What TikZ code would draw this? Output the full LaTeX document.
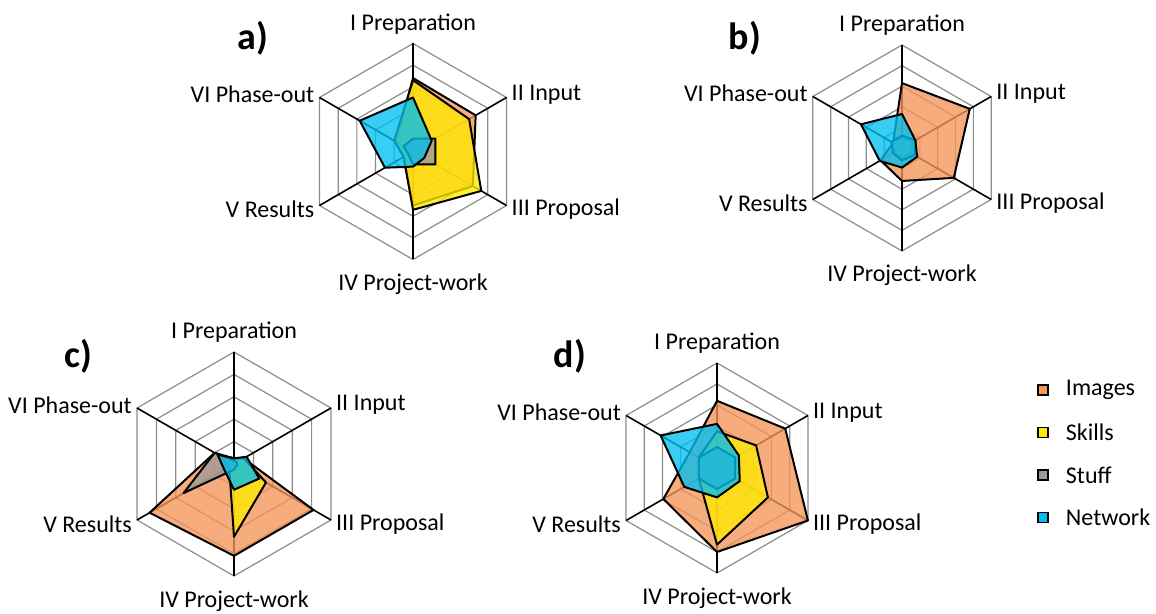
\documentclass[tikz,border=0pt]{standalone}
\usepackage{fontspec}
\setmainfont{Carlito}
\usetikzlibrary{positioning}

\definecolor{images}{HTML}{F5955A}
\definecolor{skills}{HTML}{FFEA00}
\definecolor{stuff}{HTML}{9A9A9A}
\definecolor{network}{HTML}{00BFEF}

\tikzset{
	spoke/.style={black, line width=1.6pt},
	ring/.style={black!45, line width=1.2pt},
	series/.style={draw=black, line width=2pt, line join=round, fill opacity=0.78},
	axislab/.style={font=\fontsize{24}{28}\selectfont, inner sep=5pt},
	panellab/.style={font=\fontsize{38}{42}\selectfont\bfseries, inner sep=0pt},
	keybox/.style={draw=black, line width=1.5pt, minimum size=10pt, inner sep=0pt},
	keylab/.style={font=\fontsize{24}{28}\selectfont, inner sep=0pt},
}

% grid, spokes and axis names of one panel: #1 name, #2 centre, #3 radius
\newcommand{\radargrid}[3]{
	\coordinate (#1) at (#2);
	\foreach \r in {1,...,5} {
		\foreach \a [count=\i] in {90,30,-30,-90,-150,150}
			\coordinate (#1-r\i) at ([shift={(#1)}]\a:{\r*#3/5});
		\draw[ring] (#1-r1) -- (#1-r2) -- (#1-r3) -- (#1-r4) -- (#1-r5) -- (#1-r6) -- cycle;
	}
	\foreach \a [count=\i] in {90,30,-30,-90,-150,150} {
		\coordinate (#1-\i) at ([shift={(#1)}]\a:#3);
		\draw[spoke] (#1) -- (#1-\i);
	}
	\node[axislab, anchor=base] (#1-prep) at ([yshift=13]#1-1) {I Preparation};
	\node[axislab, anchor=west] (#1-input) at ([yshift=3]#1-2) {II Input};
	\node[axislab, anchor=west] (#1-prop) at ([yshift=-4]#1-3) {III Proposal};
	\node[axislab, anchor=base] (#1-work) at ([yshift=-31]#1-4) {IV Project-work};
	\node[axislab, anchor=east] (#1-res) at ([yshift=-4]#1-5) {V Results};
	\node[axislab, anchor=east] (#1-out) at ([yshift=3]#1-6) {VI Phase-out};
}

% one data polygon: #1 panel, #2 radius, #3 colour, #4 six values (0..1)
\newcommand{\radarseries}[4]{
	\foreach \v [count=\i] in {#4}
		\coordinate (#1-s\i) at ([shift={(#1)}]{150-60*\i}:{\v*#2});
	\draw[series, fill=#3] (#1-s1) -- (#1-s2) -- (#1-s3) -- (#1-s4) -- (#1-s5) -- (#1-s6) -- cycle;
}

\begin{document}
\begin{tikzpicture}[x=1pt, y=1pt]
	\useasboundingbox (0,0) rectangle (1156,613);

	% a)
	\radargrid{pa}{413,461.5}{108}
	\radarseries{pa}{108}{images}{0.68,0.67,0.64,0.5,0.1,0.18}
	\radarseries{pa}{108}{skills}{0.66,0.6,0.73,0.54,0.1,0.2}
	\radarseries{pa}{108}{stuff}{0.12,0.24,0.24,0.12,0.05,0.1}
	\radarseries{pa}{108}{network}{0.5,0.2,0.12,0.14,0.3,0.57}
	\node[panellab] (pa-tag) at (253,575) {a)};

	% b)
	\radargrid{pb}{902,465}{103}
	\radarseries{pb}{103}{images}{0.63,0.76,0.58,0.32,0.24,0.1}
	\radarseries{pb}{103}{skills}{0.1,0.12,0.1,0.1,0.08,0.1}
	\radarseries{pb}{103}{stuff}{0.12,0.15,0.14,0.12,0.1,0.12}
	\radarseries{pb}{103}{network}{0.33,0.15,0.17,0.19,0.25,0.46}
	\node[panellab] (pb-tag) at (745,575) {b)};

	% c)
	\radargrid{pc}{234,149}{112}
	\radarseries{pc}{112}{images}{0.05,0.1,0.82,0.82,0.87,0.2}
	\radarseries{pc}{112}{skills}{0.05,0.1,0.33,0.65,0.05,0.15}
	\radarseries{pc}{112}{stuff}{0.03,0.03,0.03,0.05,0.52,0.2}
	\radarseries{pc}{112}{network}{0.05,0.13,0.26,0.23,0.1,0.17}
	\node[panellab] (pc-tag) at (78,257) {c)};

	% d)
	\radargrid{pd}{717,145}{105}
	\radarseries{pd}{105}{images}{0.64,0.75,1.0,0.8,0.59,0.3}
	\radarseries{pd}{105}{skills}{0.35,0.43,0.56,0.73,0.2,0.2}
	\radarseries{pd}{105}{stuff}{0.2,0.2,0.2,0.2,0.2,0.2}
	\radarseries{pd}{105}{network}{0.42,0.24,0.25,0.28,0.36,0.62}
	\node[panellab] (pd-tag) at (570,257) {d)};

	% legend
	\foreach \c/\t [count=\k] in {images/Images, skills/Skills, stuff/Stuff, network/Network} {
		\node[keybox, fill=\c] (key\k) at (1043,{223-42.5*(\k-1)}) {};
		\node[keylab, right=17pt of key\k] (key\k-lab) {\t};
	}
\end{tikzpicture}
\end{document}
